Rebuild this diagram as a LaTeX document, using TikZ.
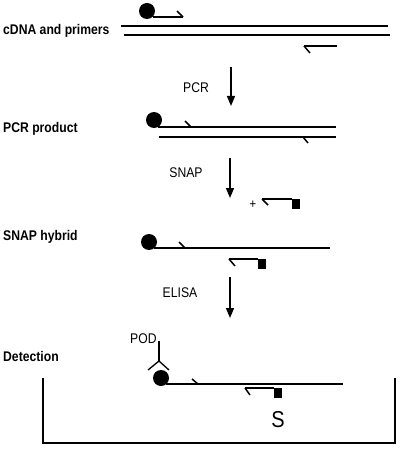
\documentclass[tikz,border=0pt]{standalone}
\usepackage{fontspec}
\newfontfamily\lab[FakeStretch=0.87]{Liberation Sans}
\usetikzlibrary{arrows.meta}
\begin{document}
\begin{tikzpicture}[x=1pt,y=-1pt,
  strand/.style={line width=1.8pt},
  primer/.style={line width=2.5pt},
  tick/.style={line width=1.5pt},
  stepa/.style={line width=1.3pt,-{Triangle[width=8pt,length=10pt]}},
  bold/.style={font=\lab\bfseries\fontsize{14}{16}\selectfont,inner sep=0pt},
  reg/.style={font=\lab\fontsize{14}{16}\selectfont,inner sep=0pt},
  dot/.style={circle,fill=black,minimum size=16pt,inner sep=0pt},
  sq/.style={rectangle,fill=black,minimum width=8pt,minimum height=9.5pt,inner sep=0pt},
  bracket/.style={line width=1.7pt}]
\useasboundingbox (0,0) rectangle (400,449);

% ---- row 1: cDNA and primers
\node[bold,anchor=base west] (l1) at (3,35) {cDNA and primers};
\coordinate (t1a) at (121,26); \coordinate (t1b) at (388,26);
\coordinate (b1a) at (124,35); \coordinate (b1b) at (390,35);
\draw[strand] (t1a) -- (t1b);
\draw[strand] (b1a) -- (b1b);
\node[dot] (d1) at (147,11) {};
\coordinate (p1e) at (183,17); \coordinate (p1t) at (177,11);
\draw[primer] (d1.south east |- p1e) -- (p1e);
\draw[tick] (p1e) -- (p1t);
\coordinate (r1a) at (304,46); \coordinate (r1b) at (337,46); \coordinate (r1t) at (310,53);
\draw[primer] (r1a) -- (r1b);
\draw[tick] (r1a) -- (r1t);

% ---- arrow PCR
\coordinate (a1s) at (231,67); \coordinate (a1e) at (231,106);
\draw[stepa] (a1s) -- (a1e);
\node[reg,anchor=base] (pcr) at (196,93) {PCR};

% ---- row 2: PCR product
\node[bold,anchor=base west] (l2) at (3,133) {PCR product};
\node[dot] (d2) at (154,120) {};
\coordinate (t2a) at (158,127); \coordinate (t2k) at (191,127); \coordinate (t2b) at (336,127);
\coordinate (t2t) at (185,121);
\draw[primer] (t2a) -- (t2k);
\draw[strand] (t2k) -- (t2b);
\draw[tick] (t2k) -- (t2t);
\coordinate (b2a) at (159,137); \coordinate (b2k) at (303,137); \coordinate (b2b) at (336,137);
\coordinate (b2t) at (308,143);
\draw[strand] (b2a) -- (b2k);
\draw[primer] (b2k) -- (b2b);
\draw[tick] (b2k) -- (b2t);

% ---- arrow SNAP
\coordinate (a2s) at (230,158); \coordinate (a2e) at (230,198);
\draw[stepa] (a2s) -- (a2e);
\node[reg,anchor=base] (snap) at (186,177) {SNAP};
\node[reg,anchor=center,font=\lab\fontsize{13}{14}\selectfont] (plus) at (253,205) {+};
\coordinate (s1a) at (262,199); \coordinate (s1t) at (268,205);
\node[sq,anchor=north west] (sq1) at (292,199) {};
\draw[primer] (s1a) -- (sq1.north west);
\draw[tick] (s1a) -- (s1t);

% ---- row 3: SNAP hybrid
\node[bold,anchor=base west] (l3) at (3,240) {SNAP hybrid};
\node[dot] (d3) at (149,242) {};
\coordinate (t3a) at (154,248); \coordinate (t3k) at (185,248); \coordinate (t3b) at (330,248);
\coordinate (t3t) at (179,242);
\draw[primer] (t3a) -- (t3k);
\draw[strand] (t3k) -- (t3b);
\draw[tick] (t3k) -- (t3t);
\coordinate (s2a) at (229,259); \coordinate (s2t) at (235,266);
\node[sq,anchor=north west] (sq2) at (258,259) {};
\draw[primer] (s2a) -- (sq2.north west);
\draw[tick] (s2a) -- (s2t);

% ---- arrow ELISA
\coordinate (a3s) at (230,277); \coordinate (a3e) at (230,318);
\draw[stepa] (a3s) -- (a3e);
\node[reg,anchor=base] (elisa) at (180,297) {ELISA};

% ---- row 4: Detection
\node[bold,anchor=base west] (l4) at (3,361) {Detection};
\node[reg,anchor=base west] (pod) at (130,343) {POD};
\coordinate (ys) at (159,341); \coordinate (yf) at (159,361);
\coordinate (yl) at (148,370); \coordinate (yr) at (169,370);
\draw[line width=1.3pt] (ys) -- (yf);
\draw[line width=1.3pt] (yl) -- (yf) -- (yr);
\node[dot] (d4) at (161,378) {};
\coordinate (t4a) at (166,384); \coordinate (t4k) at (198,384); \coordinate (t4b) at (343,384);
\coordinate (t4t) at (192,379);
\draw[primer] (t4a) -- (t4k);
\draw[strand] (t4k) -- (t4b);
\draw[tick] (t4k) -- (t4t);
\coordinate (s3a) at (245,388); \coordinate (s3t) at (250,395);
\node[sq,anchor=north west] (sq3) at (274,388) {};
\draw[primer] (s3a) -- (sq3.north west);
\draw[tick] (s3a) -- (s3t);
\node[anchor=base,inner sep=0pt,font=\lab\fontsize{23}{24}\selectfont] (S) at (278,427) {S};

% ---- well bracket
\coordinate (w1) at (43,378); \coordinate (w2) at (43,443);
\coordinate (w3) at (395,443); \coordinate (w4) at (395,378);
\draw[bracket] (w1) -- (w2) -- (w3) -- (w4);
\end{tikzpicture}
\end{document}
